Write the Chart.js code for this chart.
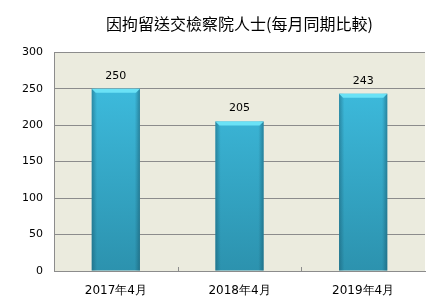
<!DOCTYPE html>
<html>
<head>
<meta charset="utf-8">
<script src="https://cdn.jsdelivr.net/npm/chart.js@4"></script>
<style>
  html, body { margin: 0; padding: 0; background: #fff; }
  #wrap { width: 443px; height: 306px; }
</style>
</head>
<body>
<div id="wrap"><canvas id="countChart" width="443" height="306"></canvas></div>
<script>
// data
var months = ['2017年4月', '2018年4月', '2019年4月'];
var persons = [250, 205, 243];
var yTicks = [0, 50, 100, 150, 200, 250, 300];
var chartTitle = '因拘留送交檢察院人士(每月同期比較)';

var labelFont = '"DejaVu Sans", Verdana, sans-serif';

// cream plot background
var plotBg = {
    id: 'plotBg',
    beforeDraw: function(chart) {
        var a = chart.chartArea, ctx = chart.ctx;
        ctx.save();
        ctx.fillStyle = '#EBEBDE';
        ctx.fillRect(a.left, a.top, a.right - a.left, a.bottom - a.top);
        ctx.restore();
    }
};

// bevel + value labels on top of each bar
var barDeco = {
    id: 'barDeco',
    afterDatasetsDraw: function(chart) {
        var ctx = chart.ctx;
        var meta = chart.getDatasetMeta(0);
        ctx.save();
        meta.data.forEach(function(bar, i) {
            var l = bar.x - bar.width / 2, r = bar.x + bar.width / 2;
            var t = bar.y, b = bar.base;
            // side shading
            var g = ctx.createLinearGradient(l, 0, r, 0);
            g.addColorStop(0, 'rgba(20,80,100,0.45)');
            g.addColorStop(0.08, 'rgba(20,80,100,0.12)');
            g.addColorStop(0.11, 'rgba(20,80,100,0)');
            g.addColorStop(0.89, 'rgba(20,80,100,0)');
            g.addColorStop(0.92, 'rgba(20,80,100,0.12)');
            g.addColorStop(1, 'rgba(20,80,100,0.5)');
            ctx.fillStyle = g;
            ctx.fillRect(l, t, r - l, b - t);
            // top bevel
            ctx.fillStyle = '#6AE2F6';
            ctx.beginPath();
            ctx.moveTo(l, t);
            ctx.lineTo(r, t);
            ctx.lineTo(r - 4, t + 4);
            ctx.lineTo(l + 4, t + 4);
            ctx.closePath();
            ctx.fill();
            // value label
            ctx.fillStyle = '#000';
            ctx.font = '11px ' + labelFont;
            ctx.textAlign = 'center';
            ctx.textBaseline = 'middle';
            ctx.fillText(String(persons[i]), bar.x, t - 13);
        });
        ctx.restore();
    }
};

// little inward ticks between categories on the bottom axis
var catTicks = {
    id: 'catTicks',
    afterDatasetsDraw: function(chart) {
        var x = chart.scales.x, ctx = chart.ctx;
        ctx.save();
        ctx.strokeStyle = '#8C8C8C';
        ctx.lineWidth = 1;
        for (var i = 1; i < months.length; i++) {
            var px = Math.round((x.getPixelForValue(i - 1) + x.getPixelForValue(i)) / 2) + 0.5;
            ctx.beginPath();
            ctx.moveTo(px, x.top);
            ctx.lineTo(px, x.top - 4);
            ctx.stroke();
        }
        ctx.restore();
    }
};

var ctx = document.getElementById('countChart').getContext('2d');
var myChart = new Chart(ctx, {
    type: 'bar',
    data: {
        labels: months,
        datasets: [{
            label: chartTitle,
            data: persons,
            backgroundColor: function(c) {
                var a = c.chart.chartArea;
                if (!a) return '#3BBBDE';
                var g = c.chart.ctx.createLinearGradient(0, a.top, 0, a.bottom);
                g.addColorStop(0, '#40C2E5');
                g.addColorStop(1, '#2C92AE');
                return g;
            },
            borderWidth: 0,
            barPercentage: 0.39,
            categoryPercentage: 1.0
        }]
    },
    plugins: [plotBg, barDeco, catTicks],
    options: {
        responsive: false,
        animation: false,
        layout: { padding: { left: 0, right: 18, top: 0, bottom: 0 } },
        plugins: {
            legend: { display: false },
            tooltip: { enabled: false },
            title: {
                display: true,
                fullSize: false,
                text: chartTitle,
                color: '#000',
                font: { family: '"Noto Sans CJK TC", sans-serif', size: 16, weight: 'normal' },
                padding: { top: 14, bottom: 19 }
            }
        },
        scales: {
            x: {
                grid: { display: false },
                border: { display: true, color: '#8C8C8C', width: 1 },
                ticks: { color: '#000', font: { family: labelFont, size: 12 }, padding: 5 },
                afterFit: function(s) { s.height = 35; }
            },
            y: {
                min: 0,
                max: 300,
                afterBuildTicks: function(s) {
                    s.ticks = yTicks.map(function(v) { return { value: v }; });
                },
                grid: { color: '#8C8C8C', drawTicks: false },
                border: { display: true, color: '#8C8C8C', width: 1 },
                ticks: { color: '#000', font: { family: labelFont, size: 11 }, padding: 11 },
                afterFit: function(s) { s.width = 54; }
            }
        }
    }
});
</script>
</body>
</html>
